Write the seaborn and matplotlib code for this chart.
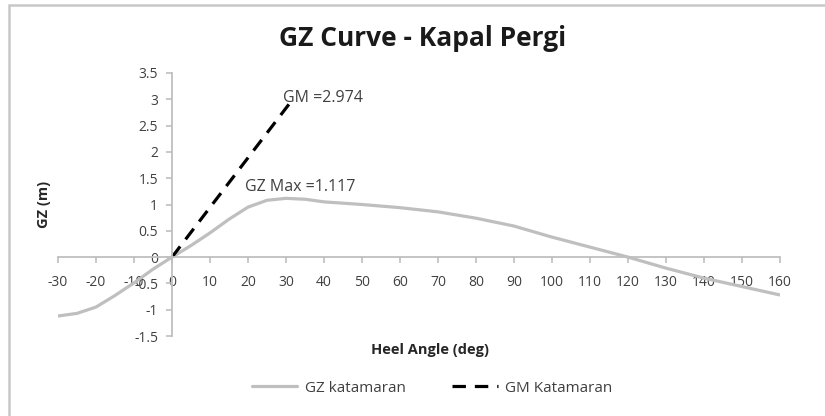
import matplotlib
matplotlib.use("Agg")
import matplotlib.pyplot as plt
import matplotlib.patches as mpatches
import pandas as pd
import seaborn as sns

# GZ curve
heel_deg = [-30, -25, -20, -15, -10, -5, 0, 5, 10, 15, 20, 25, 30, 35, 40, 50, 60, 70, 80, 90,
            100, 110, 120, 130, 140, 150, 160]
gz_m = [-1.12, -1.07, -0.95, -0.73, -0.49, -0.23, 0.0, 0.22, 0.46, 0.72, 0.95, 1.08, 1.117, 1.10,
        1.05, 1.0, 0.94, 0.86, 0.74, 0.59, 0.38, 0.19, 0.0, -0.21, -0.40, -0.56, -0.72]
# GM tangent line
gm_deg = [0, 31.5]
gm_m = [0.0, 2.974]

x_ticks = list(range(-30, 161, 10))
y_ticks = [-1.5, -1, -0.5, 0, 0.5, 1, 1.5, 2, 2.5, 3, 3.5]

sns.set_theme(style="white")
plt.rcParams["font.family"] = ["Open Sans", "DejaVu Sans"]
plt.rcParams["axes.unicode_minus"] = False

gz = pd.DataFrame({"heel": heel_deg, "gz": gz_m})
gm = pd.DataFrame({"heel": gm_deg, "gm": gm_m})

fig = plt.figure(figsize=(8.25, 4.16), dpi=100)
ax = fig.add_axes([58 / 825, 80 / 416, 722 / 825, 263 / 416])

sns.lineplot(data=gz, x="heel", y="gz", ax=ax, color="#bfbfbf", lw=2.3, label="GZ katamaran")
sns.lineplot(data=gm, x="heel", y="gm", ax=ax, color="black", lw=2.3, label="GM Katamaran")
ax.lines[1].set_dashes([4.2, 2.8])

ax.set_xlim(-30, 160)
ax.set_ylim(-1.5, 3.5)
ax.set_xticks(x_ticks)
ax.set_yticks(y_ticks)
ax.set_yticklabels([f"{v:g}" for v in y_ticks])

for side in ["top", "right"]:
    ax.spines[side].set_visible(False)
ax.spines["left"].set_position(("data", 0))
ax.spines["bottom"].set_position(("data", 0))
for side in ["left", "bottom"]:
    ax.spines[side].set_color("#bfbfbf")
    ax.spines[side].set_linewidth(1.3)
ax.tick_params(axis="both", which="major", direction="out", length=4, width=1.2,
               color="#bfbfbf", labelsize=10, labelcolor="#404040")
ax.tick_params(axis="x", pad=9, bottom=True)
ax.tick_params(axis="y", pad=6, left=True)
ax.set_xlabel("")
ax.set_ylabel("")

ax.text(29.2, 3.02, "GM =2.974", fontsize=11.5, color="#404040", va="center", ha="left")
ax.text(19.2, 1.33, "GZ Max =1.117", fontsize=11.5, color="#404040", va="center", ha="left")

fig.text(423 / 825, 1 - 38 / 416, "GZ Curve - Kapal Pergi", ha="center", va="center",
         fontsize=19, fontweight="bold", color="#1a1a1a")
fig.text(430 / 825, 1 - 350 / 416, "Heel Angle (deg)", ha="center", va="center",
         fontsize=10.5, fontweight="bold", color="#262626")
fig.text(44 / 825, 1 - 204 / 416, "GZ (m)", ha="center", va="center", rotation=90,
         fontsize=10.5, fontweight="bold", color="#262626")

handles, labels = ax.get_legend_handles_labels()
ax.get_legend().remove()
fig.legend(handles, labels, loc="center", bbox_to_anchor=(432 / 825, 1 - 388 / 416), ncol=2,
           frameon=False, fontsize=11, labelcolor="#404040", columnspacing=3.0,
           handlelength=3.0, handletextpad=0.5)

# chart frame (only top and left edges visible in the crop)
fig.patches.append(mpatches.Rectangle((9 / 825, -0.1), 1.2, 1 - 5 / 416 + 0.1, transform=fig.transFigure,
                                      fill=False, edgecolor="#c8c8c8", lw=1.8))

fig.savefig("out.png", dpi=100)
